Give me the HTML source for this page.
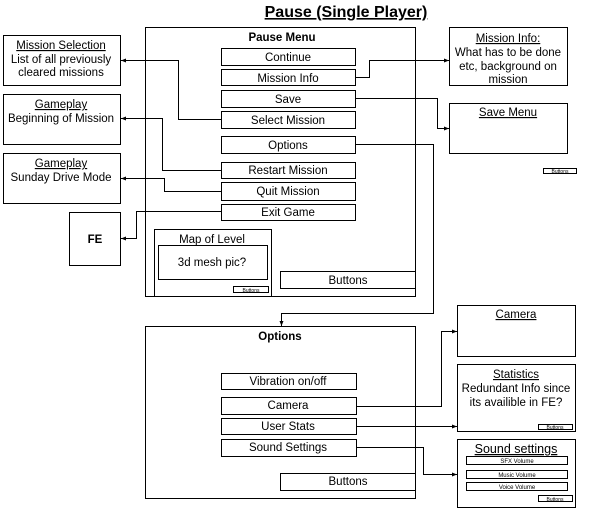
<!DOCTYPE html>
<html><head><style>
body{margin:0;background:#fff;}
svg{display:block;font-family:"Liberation Sans",Arial,sans-serif;}
</style></head><body>
<svg width="600" height="508" viewBox="0 0 600 508" xmlns="http://www.w3.org/2000/svg">
<defs><marker id="a" markerWidth="6" markerHeight="6" refX="5" refY="3" orient="auto" markerUnits="userSpaceOnUse"><path d="M0,1 L5,3 L0,5 z" fill="#000"/></marker></defs>
<g fill="none" stroke="#000" stroke-width="1">
<rect x="145.5" y="27.5" width="270" height="269"/>
<rect x="221.5" y="48.5" width="134" height="17"/>
<rect x="221.5" y="69.5" width="134" height="16"/>
<rect x="221.5" y="90.5" width="134" height="17"/>
<rect x="221.5" y="111.5" width="134" height="17"/>
<rect x="221.5" y="136.5" width="134" height="17"/>
<rect x="221.5" y="162.5" width="134" height="16"/>
<rect x="221.5" y="182.5" width="134" height="18"/>
<rect x="221.5" y="204.5" width="134" height="16"/>
<rect x="154.5" y="229.5" width="117" height="67"/>
<rect x="158.5" y="245.5" width="109" height="34"/>
<rect x="233.5" y="286.5" width="35" height="6"/>
<rect x="280.5" y="271.5" width="135" height="17"/>
<rect x="3.5" y="35.5" width="117" height="50"/>
<rect x="3.5" y="94.5" width="117" height="50"/>
<rect x="3.5" y="153.5" width="117" height="50"/>
<rect x="69.5" y="212.5" width="51" height="53"/>
<rect x="449.5" y="27.5" width="118" height="58"/>
<rect x="449.5" y="103.5" width="118" height="50"/>
<rect x="543.5" y="168.5" width="33" height="5"/>
<rect x="145.5" y="326.5" width="270" height="172"/>
<rect x="221.5" y="373.5" width="135" height="16"/>
<rect x="221.5" y="397.5" width="135" height="17"/>
<rect x="221.5" y="418.5" width="135" height="16"/>
<rect x="221.5" y="439.5" width="135" height="17"/>
<rect x="280.5" y="473.5" width="135" height="17"/>
<rect x="457.5" y="305.5" width="118" height="51"/>
<rect x="457.5" y="364.5" width="118" height="67"/>
<rect x="538.5" y="424.5" width="34" height="5"/>
<rect x="457.5" y="439.5" width="118" height="68"/>
<rect x="466.5" y="456.5" width="101" height="8"/>
<rect x="466.5" y="470.5" width="101" height="8"/>
<rect x="466.5" y="482.5" width="101" height="8"/>
<rect x="538.5" y="495.5" width="34" height="6"/>
<path marker-end="url(#a)" d="M221 119.5H178.5V60.5H121"/>
<path marker-end="url(#a)" d="M221 170.5H162.5V118.5H121"/>
<path marker-end="url(#a)" d="M221 191.5H164.5V178.5H121"/>
<path marker-end="url(#a)" d="M221 211.5H136.5V238.5H121"/>
<path marker-end="url(#a)" d="M355 77.5H369.5V60.5H449"/>
<path marker-end="url(#a)" d="M355 98.5H437.5V128.5H449"/>
<path marker-end="url(#a)" d="M355 144.5H433.5V313.5H281.5V326"/>
<path marker-end="url(#a)" d="M356 406.5H441.5V331.5H457"/>
<path marker-end="url(#a)" d="M356 426.5H457"/>
<path marker-end="url(#a)" d="M356 447.5H423.5V474.5H457"/>
</g>
<g font-size="11.5" text-anchor="middle" fill="#000">
<text x="346" y="17" font-size="16" font-weight="bold" text-decoration="underline">Pause (Single Player)</text>
<text x="282" y="41" font-weight="bold">Pause Menu</text>
<text x="288" y="61">Continue</text>
<text x="288" y="82">Mission Info</text>
<text x="288" y="103">Save</text>
<text x="288" y="124">Select Mission</text>
<text x="288" y="149">Options</text>
<text x="288" y="174">Restart Mission</text>
<text x="288" y="195">Quit Mission</text>
<text x="288" y="216">Exit Game</text>
<text x="212" y="243">Map of Level</text>
<text x="212" y="266">3d mesh pic?</text>
<text x="251" y="292" font-size="5">Buttons</text>
<text x="348" y="284">Buttons</text>
<text x="61" y="49" text-decoration="underline">Mission Selection</text>
<text x="61" y="63">List of all previously</text>
<text x="61" y="76">cleared missions</text>
<text x="61" y="108" text-decoration="underline">Gameplay</text>
<text x="61" y="122">Beginning of Mission</text>
<text x="61" y="167" text-decoration="underline">Gameplay</text>
<text x="61" y="181">Sunday Drive Mode</text>
<text x="95" y="243" font-weight="bold">FE</text>
<text x="508" y="42" text-decoration="underline">Mission Info:</text>
<text x="508" y="56">What has to be done</text>
<text x="508" y="70">etc, background on</text>
<text x="508" y="83">mission</text>
<text x="508" y="116" text-decoration="underline">Save Menu</text>
<text x="560" y="173" font-size="5">Buttons</text>
<text x="280" y="340" font-weight="bold">Options</text>
<text x="288" y="385">Vibration on/off</text>
<text x="288" y="409">Camera</text>
<text x="288" y="430">User Stats</text>
<text x="288" y="451">Sound Settings</text>
<text x="348" y="485">Buttons</text>
<text x="516" y="318" text-decoration="underline">Camera</text>
<text x="516" y="378" text-decoration="underline">Statistics</text>
<text x="516" y="392">Redundant Info since</text>
<text x="516" y="406">its availible in FE?</text>
<text x="555" y="429" font-size="5">Buttons</text>
<text x="516" y="453" font-size="12.5" text-decoration="underline">Sound settings</text>
<text x="517" y="463" font-size="6">SFX Volume</text>
<text x="517" y="477" font-size="6">Music Volume</text>
<text x="517" y="489" font-size="6">Voice Volume</text>
<text x="555" y="501" font-size="5">Buttons</text>
</g>
</svg>
</body></html>
